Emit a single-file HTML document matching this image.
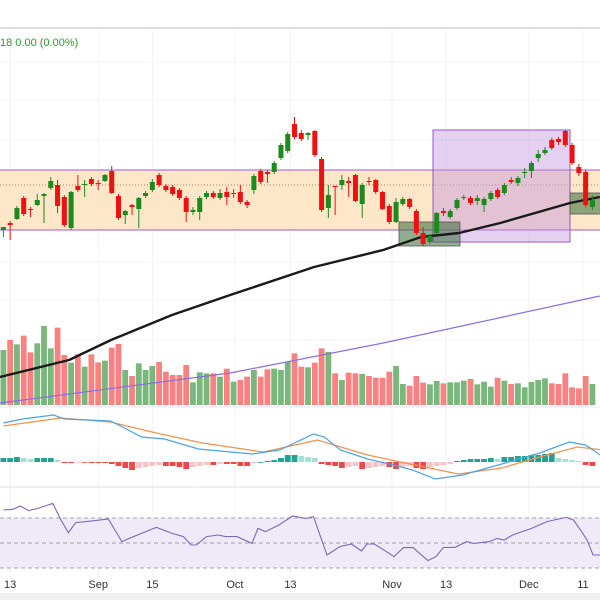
<!DOCTYPE html>
<html><head><meta charset="utf-8"><style>
html,body{margin:0;padding:0;background:#fff;}
svg{display:block;font-family:"Liberation Sans",sans-serif;}
</style></head><body>
<svg id="chart" width="600" height="600" viewBox="0 0 600 600" xmlns="http://www.w3.org/2000/svg">
<rect x="0" y="0" width="600" height="600" fill="#fff"/>
<rect x="0" y="27" width="600" height="2" fill="#dcdce8"/>
<g id="grid"></g>
<rect x="0" y="170" width="600" height="60" fill="#fde7c8"/>
<line x1="0" y1="170" x2="600" y2="170" stroke="#a05ad0" stroke-width="1"/>
<line x1="0" y1="230" x2="600" y2="230" stroke="#a05ad0" stroke-width="1"/>
<line x1="0" y1="185" x2="600" y2="185" stroke="#b08a60" stroke-width="1" stroke-dasharray="1,2"/>
<rect x="433" y="130" width="137" height="112" fill="rgba(196,150,225,0.45)" stroke="#9a55c8" stroke-width="1"/>
<rect x="399" y="222" width="61" height="24" fill="rgba(55,105,55,0.55)" stroke="#555" stroke-width="0.8"/>
<rect x="570" y="193" width="32" height="21" fill="rgba(55,105,55,0.55)" stroke="#555" stroke-width="0.8"/>
<g id="vol"></g>
<g id="ma"></g>
<g id="candles"></g>
<line x1="0" y1="407" x2="600" y2="407" stroke="#e6e6e6"/>
<g id="macd"></g>
<line x1="0" y1="487" x2="600" y2="487" stroke="#e0e0e0"/>
<g id="rsi"></g>
<rect x="0" y="593" width="600" height="7" fill="#f0f0f2"/>
<g id="xaxis"></g>
<text x="0" y="46" font-size="11" fill="#2e9a2e">18 0.00 (0.00%)</text>
</svg>
<script>
const opens=[70,77,81,102,91,95,104,112,115,103,72,114,115,121,117,119,129,104,85,95,91,104,110,125,114,113,110,102,88,88,103,107,102,108,106,108,98,110,129,128,128,142,149,176,167,165,169,141,92,114,115,119,125,96,119,120,108,94,78,96,101,89,67,58,67,89,83,92,102,102,99,95,101,110,107,120,117,127,129,142,147,160,161,169,155,133,128,93];
const closes=[73,75,92,86,90,100,106,119,94,75,108,110,116,116,116,125,107,82,89,93,102,107,118,115,110,106,102,88,90,102,107,103,107,103,107,98,95,124,118,126,137,155,166,163,161,167,145,90,105,113,120,117,99,115,118,108,91,78,98,101,93,67,56,64,87,87,89,100,103,97,102,101,107,103,115,118,122,128,137,146,150,152,158,155,137,127,95,100];
const highs=[73,79,94,104,93,106,107,123,120,105,109,125,120,123,120,126,134,106,90,96,103,109,121,127,116,115,112,104,93,104,109,109,111,113,111,115,100,126,131,130,139,157,168,183,170,168,170,143,115,114,125,123,126,117,123,121,109,96,102,103,102,91,73,66,88,92,91,102,105,104,105,103,109,112,117,123,124,132,139,150,153,162,163,170,157,136,130,105];
const lows=[63,60,80,84,83,94,77,110,87,73,70,108,103,114,110,118,106,80,76,85,72,102,108,113,108,104,100,78,85,80,101,101,100,95,102,96,92,106,116,117,126,140,147,161,159,160,143,88,82,85,110,103,98,82,115,106,90,76,77,94,91,65,54,56,66,84,81,90,100,95,95,88,99,101,105,116,114,122,122,138,145,150,155,153,135,124,93,90];
const volumes=[165,195,182,208,158,185,237,170,232,150,127,152,115,152,128,133,172,183,105,87,125,105,117,129,100,90,90,120,68,98,95,95,85,109,70,75,85,105,85,107,109,105,129,155,115,113,127,170,159,95,75,97,95,93,87,82,82,100,117,63,58,87,67,62,72,65,68,68,73,78,62,70,55,82,73,63,65,53,69,75,80,65,63,95,53,50,87,63];
const maFastIdx=[-0.5,9.7,15.9,24.9,33.5,45.9,56.1,61.7,67.3,73.4,83.7,88.1];
const maFastVal=[-77,-60,-40,-15,5,33,50,63,67,77,97,103];
const maSlowIdx=[-0.5,33.5,56.1,88.1];
const maSlowVal=[-103,-73,-43,4];
const hist=[4,4,5,4,3,4,4,4,2,-1,-1,-0.5,-0.5,-1,-1,-1,-2,-4,-6,-8,-6,-5,-4,-3,-4,-4,-5,-7,-5,-4,-3,-3,-2,-2,-2,-4,-4,-1,0,1,2,4,7,7,6,5,4,-2,-3,-4,-6,-5,-4,-7,-6,-5,-4,-5,-7,-5,-4,-6,-7,-5,-4,-3,-2,1,2,3,3,3,4,3,5,5,6,6,7,7,8,9,4,3,2,1,-3,-4];
const macdIdx=[0,2.8,7.4,9,15.8,17.6,20.4,23.8,28.8,36.8,40.8,45.8,47.4,49.8,53.8,57.6,60.4,63.8,67.8,73.6,79.2,83.6,86,88.6];
const macdVal=[39,43,47,43,41,35,25,23,13,8,12,28,25,12,3,-3,-8,-17,-13,-2,9,20,17,5];
const signalIdx=[0,8.4,15.8,22.6,29.4,38.4,46.4,53.8,62.2,67.2,73.6,79.2,84.8,88.6];
const signalVal=[36,44,40,29,19,10,22,7,-5,-12,-6,5,15,12];
const rsiIdx=[0,1.4,2.5,3.7,5.1,7.3,8.5,9.6,10.7,13.6,15.5,17.5,19.2,22.6,24.9,26.6,27.7,28.5,30,31.7,32.8,34.5,36.7,37.6,38.7,40.7,42.7,44.7,45.8,47.8,49.7,51.4,52.9,53.7,54.8,57.7,59.1,60.5,62.7,63.9,65,66.7,68.4,69.5,71.8,72.9,74,75.2,78,80.3,83.1,84.2,85.4,86.2,87.1,88.2];
const rsiVal=[76.4,77,79.6,75.9,77.7,81.7,68.4,58.3,66.3,67.9,69.2,51.1,55.1,62.5,57.7,55.1,48.4,48.4,55.1,56.4,55.1,55.1,49.7,61.7,59.1,64.4,71.6,69.7,71.1,40.4,47.1,49.2,43.6,49.2,49.2,39.1,46.3,46.3,35.9,39.1,46.5,46.5,51.1,49.7,51.1,53.7,52.4,56.4,61.7,67.1,70.5,68.4,59.1,52.4,40.4,40.4];
const rsiLevels=[70,50,30];
const dateLabels=["13","Sep","15","Oct","13","Nov","13","Dec","11"];
const dateIdx=[1,14,22,34.2,42.4,57.4,65.4,77.6,85.6];

const NS="http://www.w3.org/2000/svg";
const xS=i=>3.4+i*6.77;
const yP=v=>300-v;
const yVol=v=>405-v/3;
const yM=v=>462-v;
const yR=v=>543-(v-50)*1.25;
function mk(tag,attrs,parent){const e=document.createElementNS(NS,tag);for(const k in attrs)e.setAttribute(k,attrs[k]);parent.appendChild(e);return e;}
const G=id=>document.getElementById(id);

// grid
dateIdx.forEach((d,i)=>{const l=mk('line',{x1:xS(d),y1:30,x2:xS(d),y2:592,stroke:'#f2f2f4'},G('grid'));

});
[62,100,140,262,300,340].forEach(y=>{const l=mk('line',{x1:0,y1:y,x2:600,y2:y,stroke:'#f4f4f6'},G('grid'));

});

// volume
volumes.forEach((v,i)=>{const up=closes[i]>=opens[i];
const r=mk('rect',{x:xS(i)-2.9,y:yVol(v),width:5.8,height:405-yVol(v),fill:up?'#79b77a':'#f88282'},G('vol'));

});

// MAs
function path(idx,val,xf,yf){return idx.map((d,i)=>(i?'L':'M')+xf(d).toFixed(1)+','+yf(val[i]).toFixed(1)).join(' ');}
const slow=mk('path',{d:path(maSlowIdx,maSlowVal,xS,yP),stroke:'#8a6ee0',fill:'none','stroke-width':1.2},G('ma'));


const fast=mk('path',{d:path(maFastIdx,maFastVal,xS,yP),stroke:'#1a1a1a',fill:'none','stroke-width':2.4,'stroke-linejoin':'round'},G('ma'));



// candles
opens.forEach((o,i)=>{const c=closes[i],up=c>=o,col=up?'#1d8a1d':'#ee1111';const x=xS(i);
const g=mk('g',{},G('candles'));


mk('line',{x1:x,x2:x,y1:yP(highs[i]),y2:yP(lows[i]),stroke:col,'stroke-width':1},g);
const t=yP(Math.max(o,c)),b=yP(Math.min(o,c));
mk('rect',{x:x-2.5,y:t,width:5,height:Math.max(1,b-t),fill:col},g);});

// MACD
hist.forEach((h,i)=>{const prev=i?hist[i-1]:0;let col;
if(h>=0)col=h>=prev?'#22a28f':'#a8dfd6';else col=h<=prev?'#f04848':'#f9c4c8';
const y0=yM(0),y1=yM(h);
const r=mk('rect',{x:xS(i)-2.9,y:Math.min(y0,y1),width:5.8,height:Math.max(0.8,Math.abs(y1-y0)),fill:col},G('macd'));

});
const sig=mk('path',{d:path(signalIdx,signalVal,xS,yM),stroke:'#f5924a',fill:'none','stroke-width':1.2},G('macd'));


const mac=mk('path',{d:path(macdIdx,macdVal,xS,yM),stroke:'#4aa3e8',fill:'none','stroke-width':1.2},G('macd'));



// RSI
const band=mk('rect',{x:0,y:yR(rsiLevels[0]),width:600,height:yR(rsiLevels[2])-yR(rsiLevels[0]),fill:'#efeaf8'},G('rsi'));


rsiLevels.forEach(l=>{const ln=mk('line',{x1:0,x2:600,y1:yR(l),y2:yR(l),stroke:'#888','stroke-dasharray':'4,3','stroke-width':0.8},G('rsi'));

});
const rl=mk('path',{d:path(rsiIdx,rsiVal,xS,yR),stroke:'#7b68b8',fill:'none','stroke-width':1.1},G('rsi'));



// x axis
dateLabels.forEach((t,i)=>{const tx=mk('text',{x:xS(dateIdx[i]),y:588,'font-size':11,fill:'#333','text-anchor':'middle'},G('xaxis'));
tx.textContent=t;

});
</script>
</body></html>
